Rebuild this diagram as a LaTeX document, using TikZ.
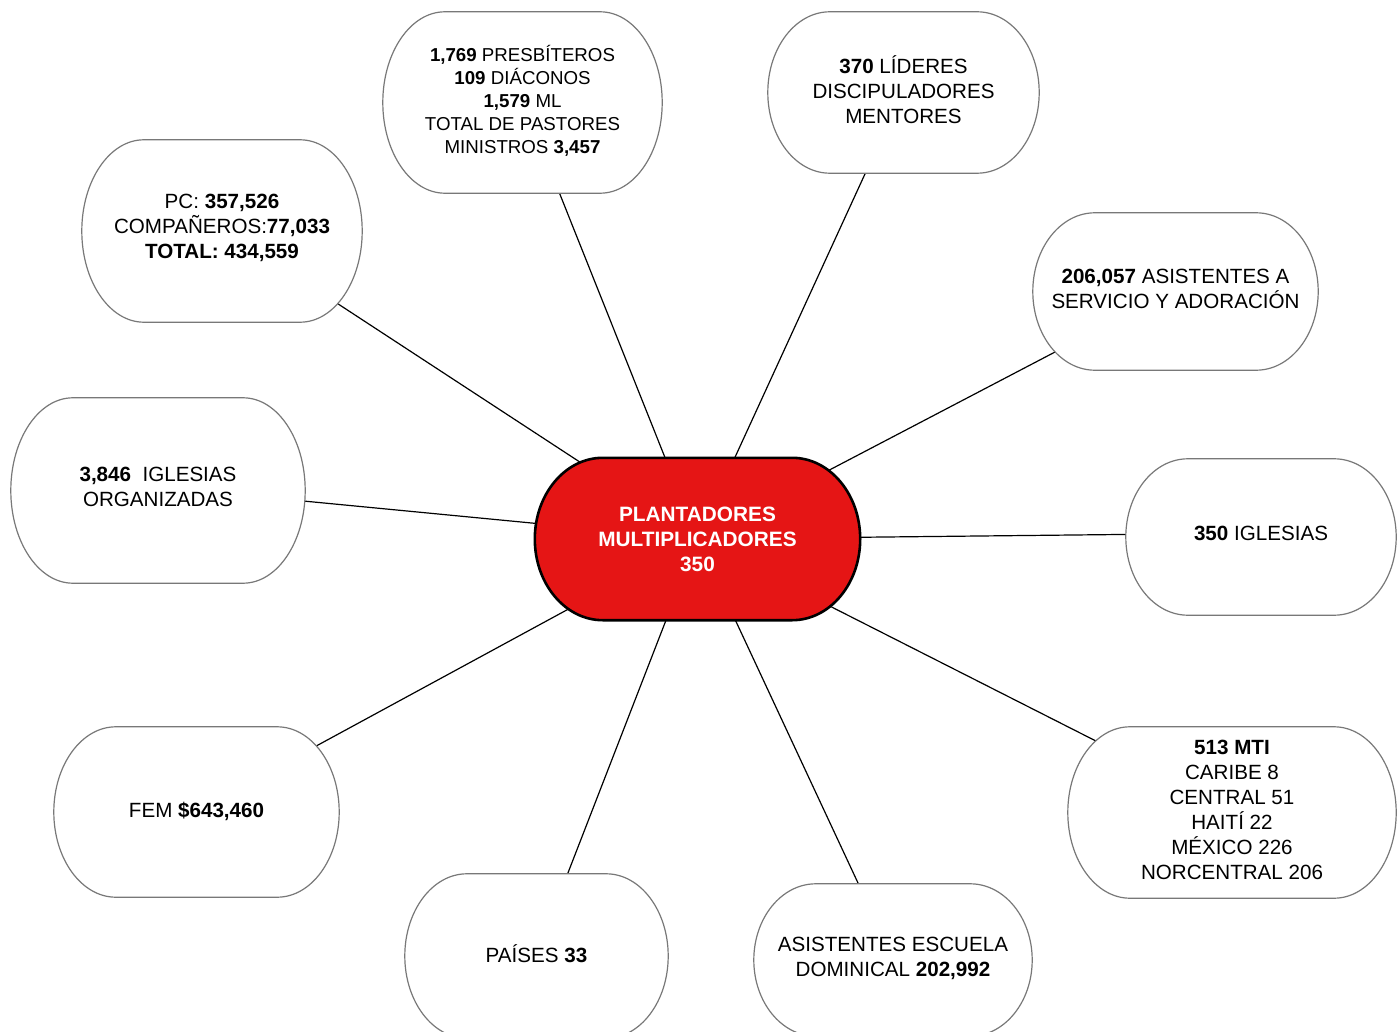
\documentclass[tikz,border=0pt]{standalone}
\usepackage{fontspec}
\setmainfont{Liberation Sans}
\usetikzlibrary{calc,backgrounds}

\definecolor{boxgray}{RGB}{120,120,120}
\definecolor{plantred}{RGB}{229,21,21}

\tikzset{
  txt/.style={align=center, inner sep=0pt, font=\fontsize{20.6}{25}\selectfont},
  boxline/.style={draw=boxgray, line width=1.2pt, fill=white},
  hubline/.style={draw=black, line width=2.6pt, fill=plantred},
  conn/.style={draw=black, line width=1.2pt},
}

% outline with elliptic ends round a node, moved down by #4
\newcommand\pillbox[4]{%
  \draw[#3] let \p1=(#1.north east), \p2=(#1.south west), \n1={(\y1-\y2)/2} in
    ([xshift=-#2, yshift=-#4]#1.north east) -- ([xshift=#2, yshift=-#4]#1.north west)
    arc[start angle=90, end angle=270, x radius=#2, y radius=\n1*1pt]
    -- ([xshift=-#2, yshift=-#4]#1.south east)
    arc[start angle=-90, end angle=90, x radius=#2, y radius=\n1*1pt] -- cycle;}

\begin{document}
\begin{tikzpicture}[x=1pt, y=-1pt]
\useasboundingbox (0,0) rectangle (1398,1032);

\node[txt, text=white, font=\fontsize{20.8}{25}\selectfont\bfseries,
  minimum width=325pt, minimum height=162pt] (hub) at (697.5,539)
  {PLANTADORES\\MULTIPLICADORES\\350};

\node[txt, font=\fontsize{18.7}{23}\selectfont, minimum width=279pt, minimum height=181pt]
  (pastores) at (522.5,100.5)
  {\textbf{1,769} PRESBÍTEROS\\\textbf{109} DIÁCONOS\\\textbf{1,579} ML\\TOTAL DE PASTORES\\MINISTROS \textbf{3,457}};
\node[txt, minimum width=271pt, minimum height=161pt] (lideres) at (903.5,90)
  {\textbf{370} LÍDERES\\DISCIPULADORES\\MENTORES};
\node[txt, minimum width=280pt, minimum height=182pt] (pc) at (222,228)
  {PC: \textbf{357,526}\\COMPAÑEROS:\textbf{77,033}\\\textbf{TOTAL: 434,559}};
\node[txt, minimum width=285pt, minimum height=157pt] (servicio) at (1175.5,289)
  {\textbf{206,057} ASISTENTES A\\SERVICIO Y ADORACIÓN};
\node[txt, minimum width=294pt, minimum height=185pt] (organizadas) at (158,487)
  {\textbf{3,846}\ \ IGLESIAS\\ORGANIZADAS};
\node[txt, minimum width=270pt, minimum height=156pt] (iglesias) at (1261,533)
  {\textbf{350} IGLESIAS};
\node[txt, minimum width=285pt, minimum height=170pt] (fem) at (196.5,811)
  {FEM \textbf{\$643,460}};
\node[txt, minimum width=328pt, minimum height=171pt] (mti) at (1232,810)
  {\textbf{513 MTI}\\CARIBE 8\\CENTRAL 51\\HAITÍ 22\\MÉXICO 226\\NORCENTRAL 206};
\node[txt, minimum width=263pt, minimum height=164pt] (paises) at (536.5,954)
  {PAÍSES \textbf{33}};
\node[txt, minimum width=278pt, minimum height=152pt] (escuela) at (893,958)
  {ASISTENTES ESCUELA\\DOMINICAL \textbf{202,992}};

\begin{scope}[on background layer]
\foreach \nm in {pastores,lideres,pc,servicio,organizadas,iglesias,fem,mti,paises,escuela}
  \draw[conn] (hub.center) -- (\nm.center);

\foreach \nm/\dy in {pastores/2pt,lideres/2.5pt,pc/3pt,servicio/2.5pt,organizadas/3.5pt,
    iglesias/4pt,fem/1pt,mti/2.5pt,paises/2pt,escuela/2pt}
  \pillbox{\nm}{62pt}{boxline}{\dy};

\pillbox{hub}{68pt}{hubline}{0pt}
\end{scope}

\end{tikzpicture}
\end{document}
